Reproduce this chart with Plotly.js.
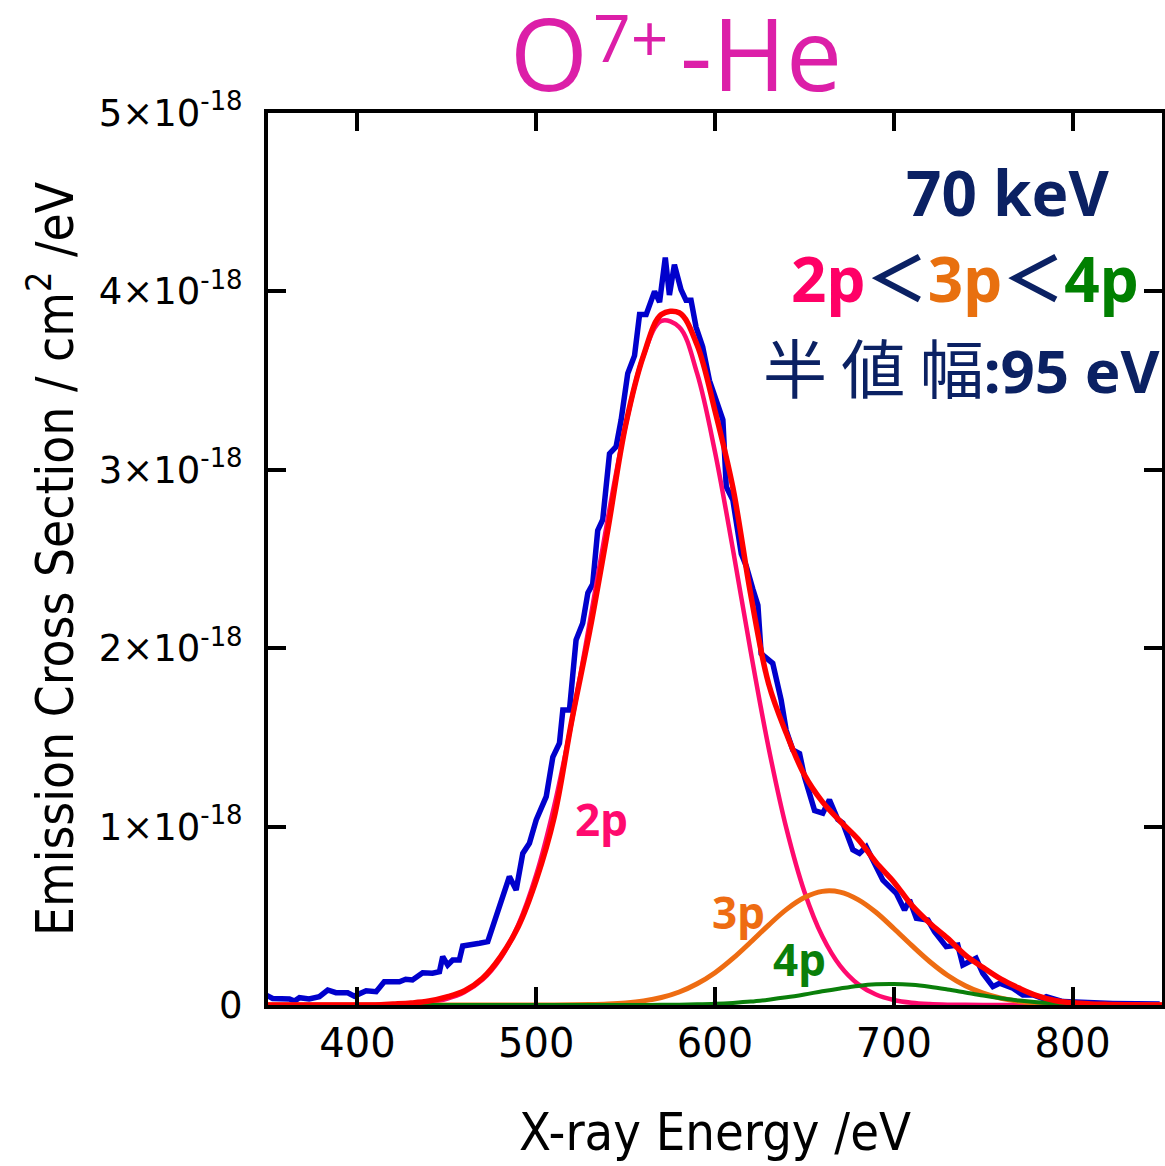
<!DOCTYPE html>
<html>
<head>
<meta charset="utf-8">
<script src="https://cdn.plot.ly/plotly-3.0.1.min.js"></script>
<style>html,body{margin:0;padding:0;background:#fff;}#chart{width:1165px;height:1166px;}</style>
</head>
<body>
<div id="chart"></div>
<script>
// Measured spectrum (blue), values in units of 1e-18 cm^2/eV
const measEnergy = [348.9,352.6,362,364.8,367.6,373,378.7,383.4,388,394.6,398.3,401,404.9,410.5,415,423.5,427,430.8,432.8,436.5,442,445.9,447.7,450.5,453.3,457,458.9,464.5,468.3,472.9,475.7,478.5,485,488.8,492.5,496.2,500,505.6,509.3,513,514.9,518.6,522.3,526,528.9,531.6,534.4,537.2,541,544.7,547.5,551.2,555,557.8,561.5,566.2,569,572.2,574.5,577.3,581,583.8,586.6,589.4,593.1,596.9,600.6,604.4,606.3,610,614.7,617.5,621.2,624,625.8,632.3,637,639.8,643.5,647.3,650,655.7,660.3,664,668.7,671.5,677.1,680.8,684.6,692,693.9,701.4,706,708.8,712.6,719.1,722.8,729.3,735.8,738.6,746,749.8,755.4,759.2,766.6,772.2,777.8,783.4,785.3,794.6,803.9,822.5,848.7];
const measValue = [0.056,0.037,0.034,0.022,0.041,0.034,0.047,0.084,0.069,0.069,0.050,0.060,0.080,0.075,0.130,0.130,0.144,0.140,0.155,0.181,0.178,0.187,0.271,0.224,0.252,0.252,0.331,0.336,0.346,0.355,0.439,0.533,0.720,0.645,0.850,0.906,1.037,1.168,1.390,1.467,1.654,1.654,2.046,2.140,2.310,2.360,2.660,2.720,3.090,3.130,3.280,3.540,3.640,3.870,3.870,4.000,3.940,4.190,3.980,4.150,4.010,3.950,3.950,3.800,3.690,3.500,3.390,3.280,2.905,2.830,2.530,2.460,2.330,2.240,1.970,1.915,1.710,1.540,1.430,1.410,1.280,1.090,1.075,1.150,1.040,1.020,0.870,0.850,0.887,0.750,0.700,0.626,0.533,0.589,0.486,0.476,0.411,0.327,0.336,0.224,0.262,0.178,0.103,0.122,0.094,0.056,0.056,0.037,0.047,0.019,0.015,0.009,0.005];

// Fit curves on a common energy grid (eV)
const fitEnergy = [350,360,370,380,390,400,410,420,430,440,450,460,470,480,490,500,510,520,530,540,550,560,570,580,590,600,610,620,630,640,650,660,670,680,690,700,710,720,730,740,750,760,770,780,790,800,810,820,830,840,850];
const fit2p = [0,0,0,0,0.0001,0.0004,0.001,0.0027,0.0068,0.016,0.035,0.073,0.142,0.261,0.450,0.730,1.113,1.595,2.150,2.725,3.248,3.640,3.835,3.800,3.540,3.100,2.555,1.979,1.441,0.987,0.635,0.385,0.219,0.117,0.059,0.028,0.0124,0.0052,0.002,0.0008,0,0,0,0,0,0,0,0,0,0,0];
const fit3p = [0,0,0,0,0,0,0,0,0,0,0,0,0,0,0,0.0002,0.0004,0.0011,0.0025,0.0056,0.0117,0.023,0.042,0.073,0.119,0.181,0.261,0.353,0.448,0.536,0.602,0.637,0.633,0.591,0.520,0.429,0.334,0.244,0.167,0.108,0.066,0.0375,0.020,0.0102,0.0048,0.0022,0.0009,0.0004,0,0,0];
const fit4p = [0,0,0,0,0,0,0,0,0,0,0,0,0,0,0,0,0,0,0,0,0,0.0004,0.0009,0.0019,0.0037,0.0068,0.0118,0.019,0.030,0.043,0.059,0.077,0.093,0.107,0.116,0.118,0.113,0.102,0.087,0.070,0.053,0.038,0.025,0.016,0.0095,0.0053,0.0028,0.0014,0.0007,0.0003,0.0001];
const fitTotal = [0,0,0,0,0,0,0,0.005,0.011,0.022,0.045,0.080,0.150,0.270,0.440,0.700,1.050,1.600,2.100,2.660,3.250,3.640,3.870,3.880,3.700,3.330,2.900,2.300,1.800,1.520,1.290,1.140,1.030,0.930,0.800,0.690,0.560,0.460,0.375,0.280,0.210,0.145,0.095,0.052,0.025,0.012,0.006,0.003,0.001,0,0];

const xTicks = [400,500,600,700,800];
const yTicks = [0,1,2,3,4,5];
const yTickText = ['0','1×10<sup>-18</sup>','2×10<sup>-18</sup>','3×10<sup>-18</sup>','4×10<sup>-18</sup>','5×10<sup>-18</sup>'];

const NAVY = '#0b2163';
const MAGENTA = '#dc1fa8';
const bold = 'Noto Sans, DejaVu Sans, sans-serif';
const titleFont = 'Open Sans, Noto Sans, sans-serif';

const traces = [
  {x: measEnergy, y: measValue, mode: 'lines', line: {color: '#0000cc', width: 5.5}},
  {x: fitEnergy, y: fit2p, mode: 'lines', line: {color: '#ff0a6e', width: 4.5, shape: 'spline'}},
  {x: fitEnergy, y: fit3p, mode: 'lines', line: {color: '#ee6c12', width: 5, shape: 'spline'}},
  {x: fitEnergy, y: fit4p, mode: 'lines', line: {color: '#0a7f0a', width: 4, shape: 'spline'}},
  {x: fitEnergy, y: fitTotal, mode: 'lines', line: {color: '#ff0000', width: 5.5, shape: 'spline'}}
];

const layout = {
  width: 1165, height: 1166,
  margin: {l: 268, r: 3, t: 113, b: 161},
  paper_bgcolor: '#ffffff', plot_bgcolor: '#ffffff',
  showlegend: false,
  xaxis: {
    range: [350, 850], tickvals: xTicks, ticktext: xTicks.map(String),
    showline: true, linecolor: '#000', linewidth: 4, mirror: 'ticks',
    ticks: 'inside', ticklen: 18, tickwidth: 4, tickcolor: '#000',
    showgrid: false, zeroline: false,
    tickfont: {family: 'DejaVu Sans, sans-serif', size: 40, color: '#000'},
    ticklabelstandoff: 0,
    title: {text: 'X-ray Energy /eV', font: {family: 'DejaVu Sans Condensed, DejaVu Sans, sans-serif', size: 52, color: '#000'}, standoff: 50}
  },
  yaxis: {
    range: [0, 5], tickvals: yTicks, ticktext: yTickText,
    showline: true, linecolor: '#000', linewidth: 4, mirror: 'ticks',
    ticks: 'inside', ticklen: 18, tickwidth: 4, tickcolor: '#000',
    showgrid: false, zeroline: false,
    tickfont: {family: 'DejaVu Sans, sans-serif', size: 37, color: '#000'},
    ticklabelstandoff: 14,
    title: {text: 'Emission Cross Section / cm<sup>2</sup> /eV', font: {family: 'DejaVu Sans Condensed, DejaVu Sans, sans-serif', size: 51, color: '#000'}, standoff: 10}
  },
  annotations: [
    // Title "O7+-He" built from three pieces so the charge sits like a superscript
    {xref: 'paper', yref: 'paper', x: 0.3143, y: 1.0684, xanchor: 'center', yanchor: 'middle', showarrow: false,
     text: 'O', font: {family: titleFont, size: 100, color: MAGENTA}},
    {xref: 'paper', yref: 'paper', x: 0.405, y: 1.0863, xanchor: 'center', yanchor: 'middle', showarrow: false,
     text: '7+', font: {family: titleFont, size: 66, color: MAGENTA}},
    {xref: 'paper', yref: 'paper', x: 0.5515, y: 1.0684, xanchor: 'center', yanchor: 'middle', showarrow: false,
     text: '-He', font: {family: titleFont, size: 100, color: MAGENTA}},
    {xref: 'paper', yref: 'paper', x: 0.944, y: 0.911, xanchor: 'right', yanchor: 'middle', showarrow: false,
     text: '<b>70 keV</b>', font: {family: bold, size: 62, color: NAVY}},
    {xref: 'paper', yref: 'paper', x: 0.976, y: 0.815, xanchor: 'right', yanchor: 'middle', showarrow: false,
     text: '<b><span style="color:#ff0066">2p</span>＜<span style="color:#e8700f">3p</span>＜<span style="color:#008000">4p</span></b>',
     font: {family: 'Noto Sans, Noto Sans CJK JP, sans-serif', size: 62, color: NAVY}},
    {xref: 'paper', yref: 'paper', x: 1.0, y: 0.717, xanchor: 'right', yanchor: 'middle', showarrow: false,
     text: '<span style="font-size:64px;font-family:Noto Sans CJK JP">半 値 幅</span><b>:95 eV</b>', font: {family: 'Noto Sans, Noto Sans CJK JP, sans-serif', size: 60, color: NAVY}},
    {x: 536.5, y: 1.04, xref: 'x', yref: 'y', showarrow: false, xanchor: 'center', yanchor: 'middle',
     text: '<b>2p</b>', font: {family: bold, size: 44, color: '#ff0a6e'}},
    {x: 613, y: 0.52, xref: 'x', yref: 'y', showarrow: false, xanchor: 'center', yanchor: 'middle',
     text: '<b>3p</b>', font: {family: bold, size: 44, color: '#ee6c12'}},
    {x: 647, y: 0.26, xref: 'x', yref: 'y', showarrow: false, xanchor: 'center', yanchor: 'middle',
     text: '<b>4p</b>', font: {family: bold, size: 44, color: '#0a7f0a'}}
  ]
};

Plotly.newPlot('chart', traces, layout, {displayModeBar: false, staticPlot: true});
</script>
</body>
</html>
